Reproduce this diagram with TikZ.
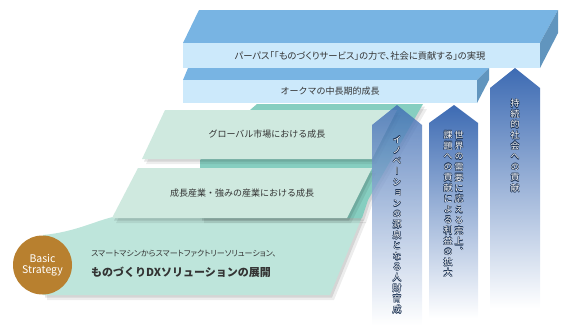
\documentclass[tikz,border=0pt]{standalone}
\usepackage{fontspec}
\setmainfont{Noto Sans CJK JP}
\newfontfamily\paltfont[RawFeature=+palt]{Noto Sans CJK JP}
\newfontfamily\vertfont[RawFeature=+vert]{Noto Sans CJK JP}
\usepackage{xcolor}
\usepackage{tikz}
\usetikzlibrary{shadows}

\definecolor{barTop}{HTML}{78B4E3}
\definecolor{barFront}{HTML}{CCE9FB}
\definecolor{barSide}{HTML}{6195BE}
\definecolor{layerTeal}{HTML}{86CEC0}
\definecolor{layerFront}{HTML}{CFE9DF}
\definecolor{baseFront}{HTML}{BEE5DB}
\definecolor{stratGold}{HTML}{B8802F}
\definecolor{arrowBlue}{HTML}{3D6BB3}
\definecolor{arrowMid}{HTML}{90B1DD}
\definecolor{inkDark}{HTML}{333333}
\definecolor{outlineNavy}{HTML}{1D3456}

% vertical label with a dark outline: name, anchor point, text
\newcommand{\vlabel}[3]{%
  \foreach \dx/\dy [count=\k] in {0.45/0,-0.45/0,0/0.45,0/-0.45,0.32/0.32,-0.32/0.32,0.32/-0.32,-0.32/-0.32}
    \node[vlab, text=outlineNavy] (#1-o\k) at ([xshift=\dx pt, yshift=\dy pt]#2) {#3};
  \node[vlab, text=white] (#1) at (#2) {#3};}

\begin{document}
\begin{tikzpicture}[x=1pt, y=-1pt,
  lbl/.style={font=\fontsize{9}{10}\selectfont, text=inkDark, inner sep=0pt},
  vlab/.style={font=\vertfont\fontsize{9}{10.6}\selectfont, align=center,
               inner sep=0pt, anchor=north},
  shade3d/.style={drop shadow={shadow xshift=4pt, shadow yshift=-5pt,
                  fill=black, opacity=0.07},
                  drop shadow={shadow xshift=2pt, shadow yshift=-2.5pt,
                  fill=black, opacity=0.1}},
  upfade/.style={top color=arrowBlue, middle color=arrowMid, bottom color=white}]
\useasboundingbox (0,0) rectangle (567,332);

\fill[barTop] (183,80) -- (188,68) -- (489,68) -- (477,80) -- cycle;
\fill[barSide] (477,80) -- (489,68) -- (489,80) -- (477,103) -- cycle;
\fill[barFront] (183,80) rectangle (477,103);
\node[lbl] (midterm) at (330,91.5) {オークマの中長期的成長};

\fill[barTop] (183,43) -- (199,10) -- (558,10) -- (540,43) -- cycle;
\fill[barSide] (540,43) -- (558,10) -- (558,33) -- (540,68) -- cycle;
\fill[barFront] (183,43) rectangle (540,68);
\node[lbl, font=\paltfont\fontsize{9.3}{10}\selectfont] (purpose) at (360,55.5)
  {パーパス「「ものづくりサービス」の力で、社会に貢献する」の実現};

\fill[baseFront, shade3d] (43,235) .. controls (75,232) and (95,221) .. (113,217)
  -- (362,217) -- (330,295) -- (43,295) -- cycle;
\fill[layerTeal, shade3d] (257,104) -- (423,104) -- (368,200) -- (362,218)
  -- (200,218) -- (200,160) -- (250,110) -- cycle;
\fill[layerFront, shade3d] (112,218) -- (138,168) -- (372,168) -- (347,218) -- cycle;
\fill[layerFront, shade3d] (142,159) -- (165,110) -- (397,110) -- (372,159) -- cycle;

\node[circle, fill=stratGold, minimum size=59pt, inner sep=0pt, text=white,
      align=center, font=\fontsize{10.5}{11.5}\selectfont] (strategy) at (42.5,265)
  {Basic\\Strategy};
\node[lbl] (global) at (267,134) {グローバル市場における成長};
\node[lbl] (industry) at (242,193) {成長産業・強みの産業における成長};
\node[lbl, anchor=west, font=\paltfont\fontsize{8}{9}\selectfont] (smart) at (91,254)
  {スマートマシンからスマートファクトリーソリューション、};
\node[lbl, anchor=west, font=\bfseries\fontsize{11}{12}\selectfont] (mfgdx)
  at (91,272) {ものづくりDXソリューションの展開};

\shade[upfade, opacity=0.8] (372,125) -- (397,105) -- (422,125) -- (422,325)
  -- (372,325) -- cycle;
\shade[upfade] (429,123) -- (454,105) -- (478,123) -- (478,318) -- (429,318) -- cycle;
\shade[upfade] (490,88) -- (515,68) -- (540,88) -- (540,308) -- (490,308) -- cycle;

\vlabel{talent}{397,136}{イ\\ノ\\ベ\\ー\\シ\\ョ\\ン\\の\\源\\泉\\と\\な\\る\\人\\財\\育\\成}
\vlabel{sales}{459,131}{世\\界\\の\\需\\要\\に\\応\\え\\る\\売\\上\\、}
\vlabel{profit}{448,131}{課\\題\\へ\\の\\貢\\献\\に\\よ\\る\\利\\益\\の\\拡\\大}
\vlabel{society}{515,99}{持\\続\\的\\社\\会\\へ\\の\\貢\\献}
\end{tikzpicture}
\end{document}
